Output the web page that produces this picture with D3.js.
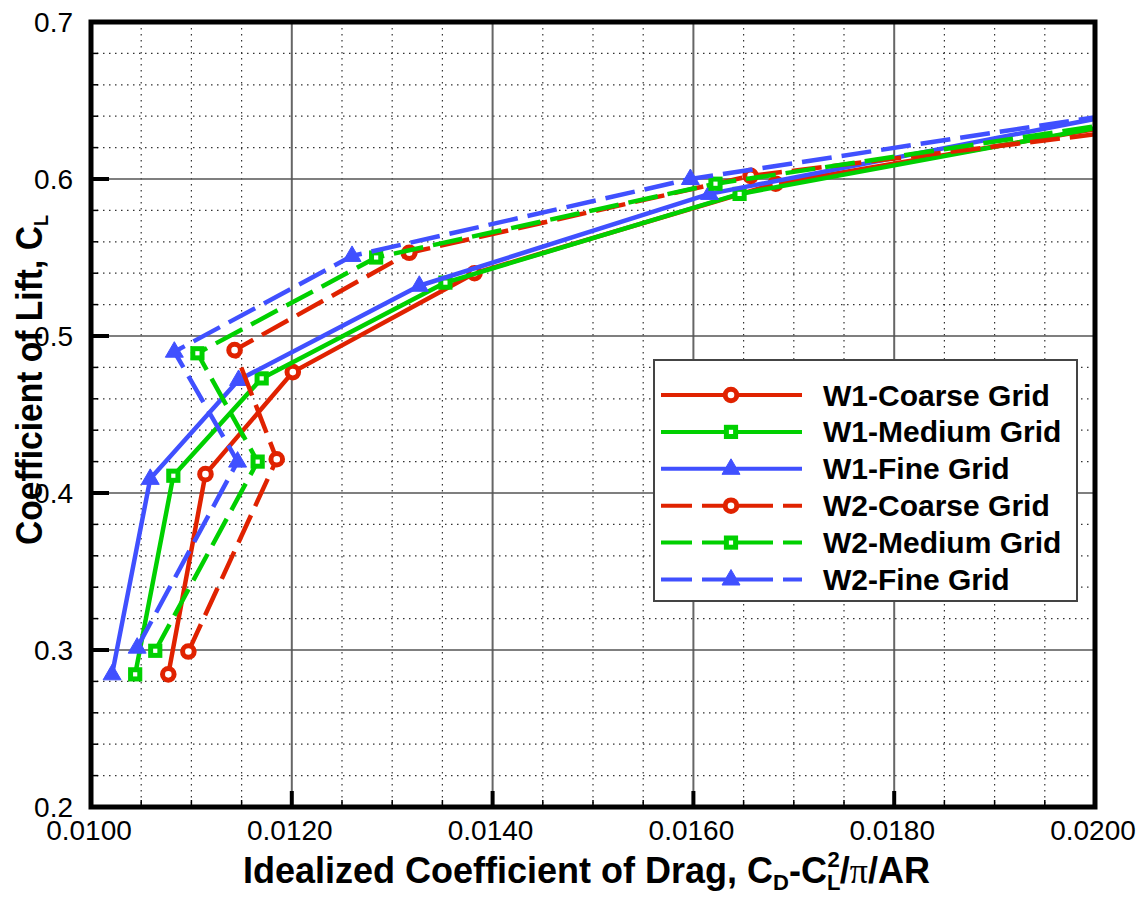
<!DOCTYPE html>
<html>
<head>
<meta charset="utf-8">
<script src="https://d3js.org/d3.v7.min.js"></script>
<style>
  html, body { margin: 0; padding: 0; background: #fff; }
  svg { display: block; }
</style>
</head>
<body>
<svg id="chart" width="1148" height="897"></svg>
<script>
// ---------- data ----------
const seriesNames = ["W1-Coarse Grid", "W1-Medium Grid", "W1-Fine Grid",
                     "W2-Coarse Grid", "W2-Medium Grid", "W2-Fine Grid"];
const seriesColors = ["#e02200", "#00d000", "#4050ff", "#e02200", "#00d000", "#4050ff"];
const seriesDashed = [false, false, false, true, true, true];
const seriesMarkers = ["circle", "square", "triangle", "circle", "square", "triangle"];

const w1CoarseX = [0.01077, 0.01114, 0.01201, 0.01382, 0.01682, 0.02150];
const w1CoarseY = [0.2845, 0.412, 0.477, 0.540, 0.597, 0.648];
const w1MediumX = [0.01044, 0.01082, 0.01170, 0.01353, 0.01646, 0.02150];
const w1MediumY = [0.2845, 0.411, 0.473, 0.534, 0.5905, 0.650];
const w1FineX   = [0.01021, 0.01059, 0.01147, 0.01327, 0.01616, 0.02150];
const w1FineY   = [0.2845, 0.409, 0.472, 0.532, 0.5905, 0.657];
const w2CoarseX = [0.01097, 0.01185, 0.01143, 0.01317, 0.01657, 0.02150];
const w2CoarseY = [0.299, 0.4215, 0.491, 0.553, 0.602, 0.640];
const w2MediumX = [0.01064, 0.01166, 0.01106, 0.01284, 0.01622, 0.02150];
const w2MediumY = [0.2995, 0.420, 0.489, 0.550, 0.597, 0.648];
const w2FineX   = [0.01046, 0.01146, 0.01083, 0.01260, 0.01597, 0.02150];
const w2FineY   = [0.3015, 0.420, 0.490, 0.551, 0.600, 0.654];

const xTicks = [0.010, 0.012, 0.014, 0.016, 0.018, 0.020];
const xTickLabels = ["0.0100", "0.0120", "0.0140", "0.0160", "0.0180", "0.0200"];
const yTicks = [0.2, 0.3, 0.4, 0.5, 0.6, 0.7];
const yTickLabels = ["0.2", "0.3", "0.4", "0.5", "0.6", "0.7"];

const seriesX = [w1CoarseX, w1MediumX, w1FineX, w2CoarseX, w2MediumX, w2FineX];
const seriesY = [w1CoarseY, w1MediumY, w1FineY, w2CoarseY, w2MediumY, w2FineY];

// ---------- layout ----------
const X0 = 91, X1 = 1095, Y0 = 22, Y1 = 807;
const svg = d3.select("#chart");
const x = d3.scaleLinear().domain([0.010, 0.020]).range([X0, X1]);
const y = d3.scaleLinear().domain([0.2, 0.7]).range([Y1, Y0]);

svg.append("defs").append("clipPath").attr("id", "plotclip")
  .append("rect").attr("x", X0).attr("y", Y0).attr("width", X1 - X0).attr("height", Y1 - Y0);

const sans = "'Liberation Sans', Arial, Helvetica, sans-serif";

// minor grid (dotted)
const xMinor = d3.range(0.0105, 0.0200, 0.0005).filter(v => Math.abs(v / 0.002 - Math.round(v / 0.002)) > 1e-6);
const yMinor = d3.range(0.22, 0.7, 0.02).filter(v => Math.abs(v / 0.1 - Math.round(v / 0.1)) > 1e-6);
const grid = svg.append("g");
grid.selectAll(".xm").data(xMinor).join("line")
  .attr("x1", d => x(d)).attr("x2", d => x(d)).attr("y1", Y0).attr("y2", Y1)
  .attr("stroke", "#333").attr("stroke-width", 1.2).attr("stroke-dasharray", "1.5,4.5");
grid.selectAll(".ym").data(yMinor).join("line")
  .attr("y1", d => y(d)).attr("y2", d => y(d)).attr("x1", X0).attr("x2", X1)
  .attr("stroke", "#333").attr("stroke-width", 1.2).attr("stroke-dasharray", "1.5,4.5");
// major grid
grid.selectAll(".xM").data(xTicks.slice(1, -1)).join("line")
  .attr("x1", d => x(d)).attr("x2", d => x(d)).attr("y1", Y0).attr("y2", Y1)
  .attr("stroke", "#666").attr("stroke-width", 2);
grid.selectAll(".yM").data(yTicks.slice(1, -1)).join("line")
  .attr("y1", d => y(d)).attr("y2", d => y(d)).attr("x1", X0).attr("x2", X1)
  .attr("stroke", "#555").attr("stroke-width", 1.6);

// ---------- markers ----------
function drawMarker(g, type, cx, cy, color) {
  if (type === "circle") {
    g.append("circle").attr("cx", cx).attr("cy", cy).attr("r", 5.8)
      .attr("fill", "#fff").attr("stroke", color).attr("stroke-width", 5);
  } else if (type === "square") {
    g.append("rect").attr("x", cx - 4.6).attr("y", cy - 4.6).attr("width", 9.2).attr("height", 9.2)
      .attr("fill", "#fff").attr("stroke", color).attr("stroke-width", 5);
  } else {
    g.append("path").attr("d", `M${cx},${cy - 10}L${cx + 9},${cy + 5.5}L${cx - 9},${cy + 5.5}Z`)
      .attr("fill", color).attr("stroke", color).attr("stroke-width", 1);
  }
}

const plot = svg.append("g").attr("clip-path", "url(#plotclip)");
const lineGen = d3.line().x(d => x(d[0])).y(d => y(d[1]));
seriesNames.forEach((name, i) => {
  const pts = seriesX[i].map((v, k) => [v, seriesY[i][k]]);
  plot.append("path").datum(pts).attr("d", lineGen)
    .attr("fill", "none").attr("stroke", seriesColors[i]).attr("stroke-width", 4.5)
    .attr("stroke-linejoin", "round")
    .attr("stroke-dasharray", seriesDashed[i] ? "30,10" : null);
  const mg = plot.append("g");
  pts.forEach(p => drawMarker(mg, seriesMarkers[i], x(p[0]), y(p[1]), seriesColors[i]));
});

// ---------- legend ----------
const lg = svg.append("g");
lg.append("rect").attr("x", 654).attr("y", 360).attr("width", 423).attr("height", 241)
  .attr("fill", "#fff").attr("stroke", "#444").attr("stroke-width", 2);
seriesNames.forEach((name, i) => {
  const ry = 395 + i * 36.9;
  lg.append("line").attr("x1", 661).attr("x2", 802).attr("y1", ry).attr("y2", ry)
    .attr("stroke", seriesColors[i]).attr("stroke-width", 4)
    .attr("stroke-dasharray", seriesDashed[i] ? "31,10,71,10,31" : null);
  drawMarker(lg, seriesMarkers[i], 731, ry, seriesColors[i]);
  lg.append("text").attr("x", 823).attr("y", ry + 10.5).text(name)
    .attr("font-family", sans).attr("font-weight", "bold").attr("font-size", 30).attr("fill", "#000");
});

// ---------- frame & ticks ----------
const ax = svg.append("g");
ax.selectAll(".ltm").data(yMinor).join("line")
  .attr("x1", X0).attr("x2", X0 + 7).attr("y1", d => y(d)).attr("y2", d => y(d))
  .attr("stroke", "#000").attr("stroke-width", 1.5);
ax.selectAll(".ltM").data(yTicks).join("line")
  .attr("x1", X0).attr("x2", X0 + 18).attr("y1", d => y(d)).attr("y2", d => y(d))
  .attr("stroke", "#000").attr("stroke-width", 4);
ax.selectAll(".btm").data(xMinor).join("line")
  .attr("y1", Y1).attr("y2", Y1 - 7).attr("x1", d => x(d)).attr("x2", d => x(d))
  .attr("stroke", "#000").attr("stroke-width", 1.5);
ax.selectAll(".btM").data(xTicks).join("line")
  .attr("y1", Y1).attr("y2", Y1 - 16).attr("x1", d => x(d)).attr("x2", d => x(d))
  .attr("stroke", "#000").attr("stroke-width", 4);
ax.append("rect").attr("x", X0).attr("y", Y0).attr("width", X1 - X0).attr("height", Y1 - Y0)
  .attr("fill", "none").attr("stroke", "#000").attr("stroke-width", 5);

// tick labels
ax.selectAll(".xl").data(xTicks).join("text")
  .attr("x", d => x(d) - 2).attr("y", 840).attr("text-anchor", "middle")
  .attr("font-family", sans).attr("font-size", 28).attr("fill", "#000")
  .text((d, i) => xTickLabels[i]);
ax.selectAll(".yl").data(yTicks).join("text")
  .attr("x", 73).attr("y", d => y(d) + 10).attr("text-anchor", "end")
  .attr("font-family", sans).attr("font-size", 28).attr("fill", "#000")
  .text((d, i) => yTickLabels[i]);

// axis titles
const xt = svg.append("text").attr("x", 243).attr("y", 883)
  .attr("font-family", sans).attr("font-weight", "bold").attr("font-size", 36).attr("fill", "#000");
xt.append("tspan").text("Idealized Coefficient of Drag, C");
xt.append("tspan").attr("font-size", 22).attr("dy", 7).text("D");
xt.append("tspan").attr("dy", -7).text("-C");
xt.append("tspan").attr("font-size", 22).attr("dy", 7).text("L");
xt.append("tspan").attr("font-size", 22).attr("dx", -13).attr("dy", -23).text("2");
xt.append("tspan").attr("dy", 16).text("/");
xt.append("tspan").attr("font-family", "'Liberation Serif', 'Times New Roman', serif").attr("font-weight", "normal").text("π");
xt.append("tspan").text("/AR");

const yt = svg.append("text").attr("transform", "translate(42,380) rotate(-90)")
  .attr("text-anchor", "middle")
  .attr("font-family", sans).attr("font-weight", "bold").attr("font-size", 37).attr("fill", "#000")
  .attr("textLength", 330).attr("lengthAdjust", "spacingAndGlyphs");
yt.append("tspan").text("Coefficient of Lift, C");
yt.append("tspan").attr("font-size", 20).attr("dy", 6).text("L");
</script>
</body>
</html>
